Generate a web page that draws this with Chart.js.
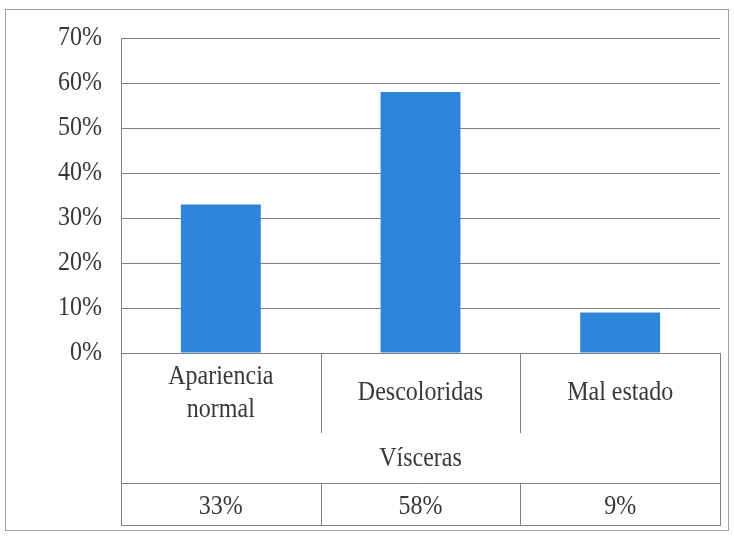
<!DOCTYPE html>
<html>
<head>
<meta charset="utf-8">
<script src="https://cdn.jsdelivr.net/npm/chart.js@4"></script>
<style>
  html, body { margin: 0; padding: 0; background: #fff; }
  #wrap { width: 734px; height: 539px; }
</style>
</head>
<body>
<div id="wrap"><canvas id="visceras"></canvas></div>
<script>
// Categorias, valores (%) y escala del eje Y
const categorias = [['Apariencia', 'normal'], ['Descoloridas'], ['Mal estado']];
const valores = [33, 58, 9];
const tituloEje = 'Vísceras';
const yMin = 0;
const yMax = 70;
const yPaso = 10;

const FUENTE = "'Liberation Serif', 'Times New Roman', serif";
const TEXTO = '#383838';
const LINEA = '#808080';
const ESTIRA = 1.18; // letras algo mas altas que anchas

// texto centrado en (x, y) con estiramiento vertical
function texto(ctx, t, x, y) {
  ctx.save();
  ctx.translate(x, y);
  ctx.scale(1, ESTIRA);
  ctx.fillText(t, 0, 0);
  ctx.restore();
}

// Etiquetas del eje Y a partir de los ticks de la escala
const etiquetasY = {
  id: 'etiquetasY',
  afterDraw(chart) {
    const ctx = chart.ctx;
    const y = chart.scales.y;
    ctx.save();
    ctx.fillStyle = TEXTO;
    ctx.font = '24px ' + FUENTE;
    ctx.textAlign = 'right';
    ctx.textBaseline = 'middle';
    y.ticks.forEach(t => texto(ctx, t.value + '%', chart.chartArea.left - 19, y.getPixelForValue(t.value)));
    ctx.restore();
  }
};

// Tabla de datos bajo el grafico (filas: categorias, titulo, valores)
const tablaDatos = {
  id: 'tablaDatos',
  afterDraw(chart) {
    const ctx = chart.ctx;
    const area = chart.chartArea;
    const x = chart.scales.x;
    const izq = area.left, der = area.right;
    const top = area.bottom;
    const filaCat = top + 80;
    const filaTit = 483;
    const fondo = 525;

    // bordes de la celda de cada categoria
    const bordes = [izq];
    for (let i = 0; i < categorias.length - 1; i++) {
      bordes.push((x.getPixelForValue(i) + x.getPixelForValue(i + 1)) / 2);
    }
    bordes.push(der);

    ctx.save();
    ctx.strokeStyle = LINEA;
    ctx.lineWidth = 1;
    ctx.beginPath();
    // contorno de la tabla
    ctx.moveTo(izq + 0.5, top); ctx.lineTo(izq + 0.5, fondo);
    ctx.moveTo(der + 0.5, top); ctx.lineTo(der + 0.5, fondo);
    ctx.moveTo(izq, Math.round(filaTit) + 0.5); ctx.lineTo(der, Math.round(filaTit) + 0.5);
    ctx.moveTo(izq, fondo + 0.5); ctx.lineTo(der + 1, fondo + 0.5);
    // divisiones entre categorias
    for (let i = 1; i < bordes.length - 1; i++) {
      const bx = Math.round(bordes[i]) + 0.5;
      ctx.moveTo(bx, top); ctx.lineTo(bx, filaCat);
      ctx.moveTo(bx, filaTit); ctx.lineTo(bx, fondo);
    }
    ctx.stroke();

    // marco exterior
    ctx.strokeStyle = '#a0a0a0';
    ctx.strokeRect(5.5, 9.5, 723, 521);

    // textos
    ctx.fillStyle = TEXTO;
    ctx.font = '24px ' + FUENTE;
    ctx.textAlign = 'center';
    ctx.textBaseline = 'middle';
    const alto = 33;
    categorias.forEach((lineas, i) => {
      const cx = x.getPixelForValue(i);
      const y0 = 393 - (lineas.length - 1) * alto / 2;
      lineas.forEach((t, j) => texto(ctx, t, cx, y0 + j * alto));
      texto(ctx, valores[i] + '%', cx, 507);
    });
    texto(ctx, tituloEje, (izq + der) / 2, 459);
    ctx.restore();
  }
};

new Chart(document.getElementById('visceras'), {
  type: 'bar',
  data: {
    labels: categorias,
    datasets: [{
      data: valores,
      backgroundColor: '#2d84d9',
      borderWidth: 0,
      categoryPercentage: 1,
      barPercentage: 0.4
    }]
  },
  options: {
    responsive: true,
    maintainAspectRatio: false,
    animation: false,
    layout: { padding: { left: 0, top: 38, right: 14, bottom: 186 } },
    plugins: {
      legend: { display: false },
      tooltip: { enabled: false }
    },
    scales: {
      x: { display: false },
      y: {
        min: yMin,
        max: yMax,
        afterFit(scale) { scale.width = 121; },
        border: { display: true, color: LINEA, width: 1 },
        grid: { color: LINEA, lineWidth: 1, drawTicks: false },
        ticks: { stepSize: yPaso, display: false }
      }
    }
  },
  plugins: [etiquetasY, tablaDatos]
});
</script>
</body>
</html>
